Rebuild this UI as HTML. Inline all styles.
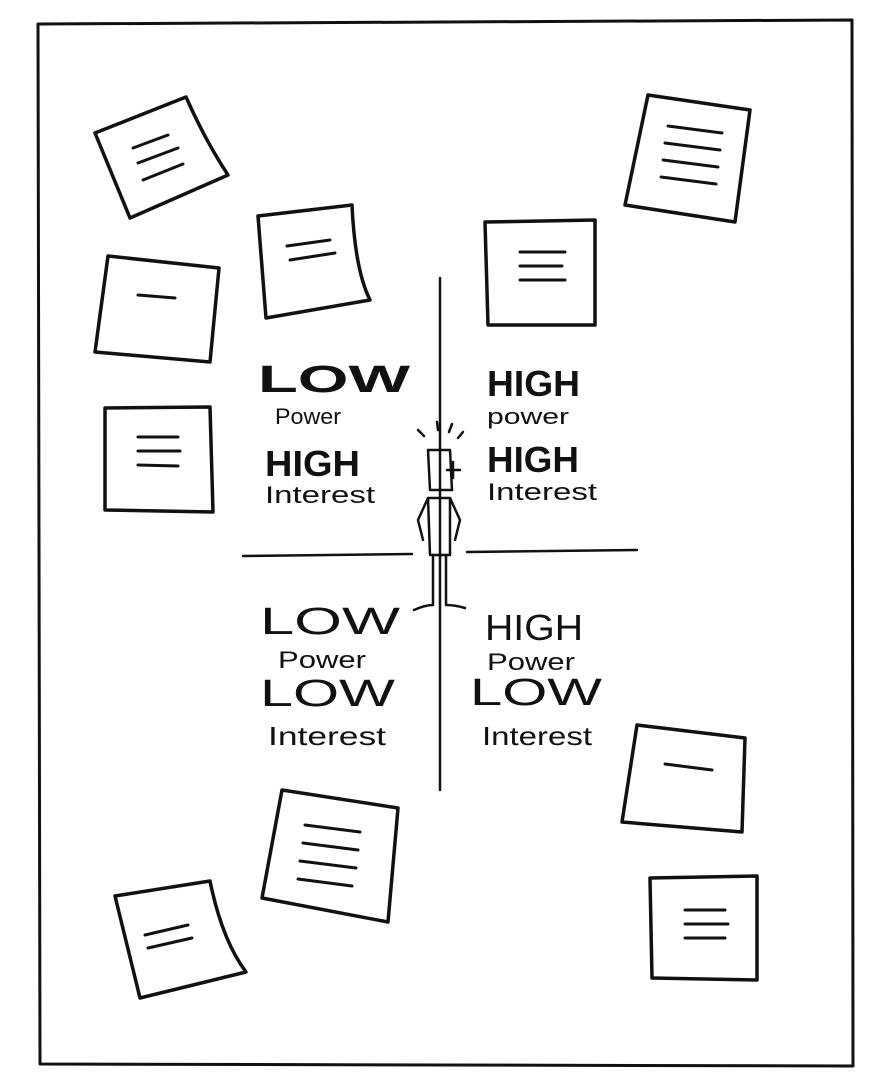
<!DOCTYPE html>
<html><head><meta charset="utf-8"><style>
html,body{margin:0;padding:0;background:#fff;}
svg{display:block;}
text{font-family:"Liberation Sans",sans-serif;fill:#111;}
.b{font-weight:bold;}
</style></head><body>
<svg width="871" height="1085" viewBox="0 0 871 1085" xmlns="http://www.w3.org/2000/svg">
<g fill="none" stroke="#111" stroke-linecap="round" stroke-linejoin="round">
<path d="M38 24 L852 20 L853 1066 L40 1064 Z" stroke-width="3"/>
<g stroke-width="3.5">
<path d="M95 133 L186 97 Q205 140 228 175 L130 218 Z"/>
<path d="M258 216 L352 205 Q355 270 370 300 L266 318 Z"/>
<path d="M108 256 L219 268 L210 362 L95 352 Z"/>
<path d="M105 408 L210 407 L213 512 L105 510 Z"/>
<path d="M648 95 L750 110 L735 222 L625 205 Z"/>
<path d="M485 222 L595 220 L595 325 L488 325 Z"/>
<path d="M637 725 L745 738 L742 832 L622 822 Z"/>
<path d="M650 878 L757 876 L757 980 L652 978 Z"/>
<path d="M282 790 L398 808 L388 922 L262 898 Z"/>
<path d="M115 896 L210 881 Q222 940 246 972 L140 998 Z"/>
</g>
<g stroke-width="3">
<path d="M133 148 L168 135 M138 163 L178 148 M143 180 L183 164"/>
<path d="M287 246 L330 240 M290 260 L335 253"/>
<path d="M138 295 L175 298"/>
<path d="M138 437 L178 437 M138 451 L180 451 M138 465 L178 466"/>
<path d="M668 126 L722 133 M665 143 L720 150 M663 160 L718 167 M661 177 L716 184"/>
<path d="M520 252 L565 252 M520 266 L562 266 M520 280 L565 280"/>
<path d="M665 764 L712 770"/>
<path d="M685 910 L725 910 M685 924 L728 924 M685 938 L725 938"/>
<path d="M305 825 L360 832 M303 843 L358 850 M300 861 L356 868 M298 879 L352 886"/>
<path d="M145 935 L188 925 M148 948 L192 938"/>
</g>
<g stroke-width="2.5">
<path d="M440 278 L440 790"/>
<path d="M243 556 L412 554 M467 552 L637 550"/>
</g>
<g stroke-width="2.5">
<path d="M428 450 L450 450 L452 490 L430 490 Z"/>
<path d="M447 470 L460 470 M453 462 L453 478"/>
<path d="M418 430 L424 436 M437 422 L438 430 M452 424 L449 432 M463 432 L458 438"/>
<path d="M428 498 L450 498 L460 520 L455 540 M428 498 L418 520 L423 540 M428 498 L430 555 L450 555 L450 498"/>
<path d="M433 555 L433 605 Q425 605 414 610 M446 555 L446 605 Q455 605 465 608"/>
</g>
</g>
<g>
<text x="258" y="392" font-size="38" class="b" textLength="152" lengthAdjust="spacingAndGlyphs">LOW</text>
<text x="275" y="424" font-size="22" textLength="66" lengthAdjust="spacingAndGlyphs">Power</text>
<text x="265" y="476" font-size="36" class="b" textLength="95" lengthAdjust="spacingAndGlyphs">HIGH</text>
<text x="265" y="503" font-size="24" textLength="110" lengthAdjust="spacingAndGlyphs">Interest</text>
<text x="487" y="396" font-size="36" class="b" textLength="93" lengthAdjust="spacingAndGlyphs">HIGH</text>
<text x="487" y="424" font-size="22" textLength="82" lengthAdjust="spacingAndGlyphs">power</text>
<text x="487" y="472" font-size="36" class="b" textLength="92" lengthAdjust="spacingAndGlyphs">HIGH</text>
<text x="487" y="500" font-size="24" textLength="110" lengthAdjust="spacingAndGlyphs">Interest</text>
<text x="260" y="634" font-size="38" textLength="140" lengthAdjust="spacingAndGlyphs">LOW</text>
<text x="278" y="668" font-size="24" textLength="88" lengthAdjust="spacingAndGlyphs">Power</text>
<text x="260" y="706" font-size="38" textLength="135" lengthAdjust="spacingAndGlyphs">LOW</text>
<text x="268" y="745" font-size="26" textLength="118" lengthAdjust="spacingAndGlyphs">Interest</text>
<text x="485" y="640" font-size="36" textLength="98" lengthAdjust="spacingAndGlyphs">HIGH</text>
<text x="487" y="670" font-size="24" textLength="88" lengthAdjust="spacingAndGlyphs">Power</text>
<text x="470" y="705" font-size="38" textLength="132" lengthAdjust="spacingAndGlyphs">LOW</text>
<text x="482" y="745" font-size="26" textLength="110" lengthAdjust="spacingAndGlyphs">Interest</text>
</g>
</svg>
</body></html>
